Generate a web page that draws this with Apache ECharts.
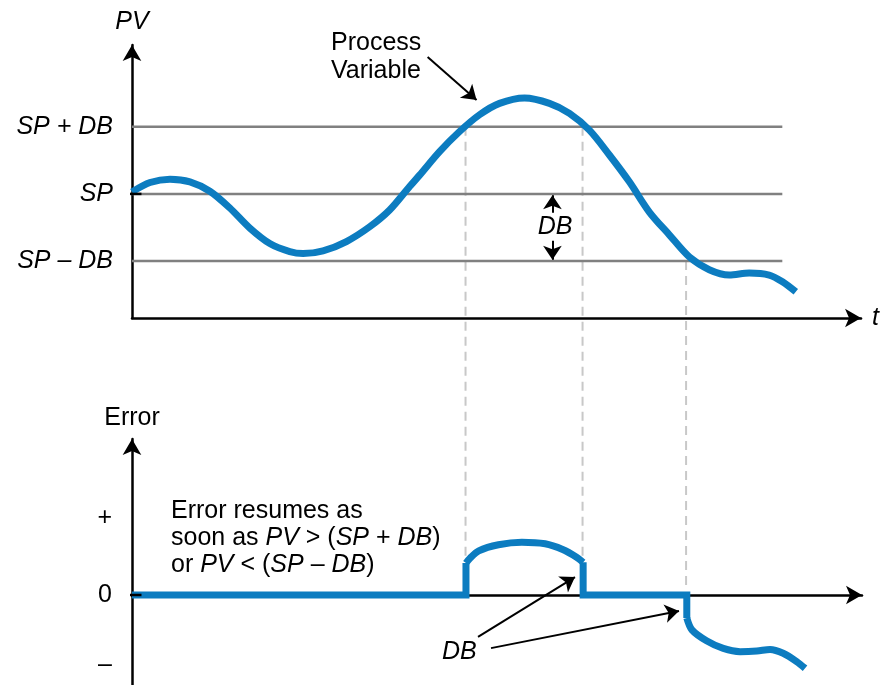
<!DOCTYPE html>
<html>
<head>
<meta charset="utf-8">
<script src="https://cdn.jsdelivr.net/npm/echarts@6/dist/echarts.min.js"></script>
<style>
  html, body { margin: 0; padding: 0; background: #fff; }
  #chart { width: 880px; height: 685px; }
</style>
</head>
<body>
<div id="chart"></div>
<script>
// time runs 0..100 along t, PV is measured in DB units around SP
var pvCurve = [[0, 0.03], [2.47, 0.17], [5.21, 0.22], [7.95, 0.18], [10.68, 0.04], [13.42, -0.21],
  [16.16, -0.51], [18.9, -0.74], [21.64, -0.86], [23.47, -0.89], [26.2, -0.85], [29.41, -0.71],
  [32.6, -0.49], [35.34, -0.24], [38.08, 0.11], [39.45, 0.28], [42.19, 0.63], [44.93, 0.93],
  [47.67, 1.18], [50.41, 1.35], [53.84, 1.43], [57.26, 1.35], [60, 1.2], [62.74, 0.95],
  [65.48, 0.58], [68.22, 0.18], [70.96, -0.27], [73.7, -0.61], [76.44, -0.94], [79.18, -1.13],
  [81.92, -1.21], [84.66, -1.18], [87.4, -1.21], [89.22, -1.31], [91.05, -1.46]];

var levelValues = [1, 0, -1];
var levelLabels = ['SP + DB', 'SP', 'SP \u2013 DB'];
var levelEnd = 89.2;

// error signal, pieces: flat/steps are straight, the bumps are smooth
var errStepUp = [[0, 0], [45.75, 0], [45.75, 1.0]];
var errArc = [[45.75, 1.0], [46.3, 1.15], [47.5, 1.38], [50.2, 1.57], [53.4, 1.65], [56.6, 1.6],
  [59, 1.42], [60.9, 1.18], [61.8, 1.02]];
var errStepDown = [[61.8, 1.02], [61.8, 0], [76.0, 0], [76.0, -0.72]];
var errTail = [[76.0, -0.72], [76.7, -1.09], [78.7, -1.43], [81, -1.67], [83.3, -1.77], [85.6, -1.75],
  [87.4, -1.7], [89.2, -1.82], [91.05, -2.08], [92.2, -2.29]];

var errTicks = [2.4, 0, -2.2];
var errTickLabels = ['+', '0', '\u2013'];

// dashed guides where PV leaves the dead band
var crossT = [45.75, 61.8, 76.0];
var crossLevel = [1, 1, -1];
var crossErr = [1.19, 1.19, 0.16];

var BLUE = '#0c7cc0';
var FONT = 'Liberation Sans';
var FS = 25;

function plain(data, grid, color, width, smooth, z) {
  return {
    type: 'line', xAxisIndex: grid, yAxisIndex: grid, data: data,
    showSymbol: false, symbol: 'none', smooth: smooth || false,
    clip: false, silent: true, z: z || 2,
    lineStyle: { color: color, width: width, cap: 'butt', join: 'miter' }
  };
}

function arrows(grid, pairs) {
  return {
    type: 'line', xAxisIndex: grid, yAxisIndex: grid, data: [], clip: false, silent: true, z: 4,
    markLine: {
      silent: true, symbol: ['none', 'arrow'], symbolSize: 14, animation: false,
      label: { show: false },
      lineStyle: { color: '#000', width: 2, type: 'solid' },
      emphasis: { disabled: true },
      data: pairs.map(function (p) { return [{ coord: p[0] }, { coord: p[1] }]; })
    }
  };
}

var series = [];
levelValues.forEach(function (v) {
  series.push(plain([[0, v], [levelEnd, v]], 0, '#808080', 2.5, false, 2));
});
series.push(plain([[-1.25, 0], [1.3, 0]], 0, '#000', 2.5, false, 5));
series.push(plain([[-1.25, 0], [1.3, 0]], 1, '#000', 2.5, false, 5));
series.push(plain(pvCurve, 0, BLUE, 7, 0.3, 3));
series.push(plain(errStepUp, 1, BLUE, 7, false, 3));
series.push(plain(errArc, 1, BLUE, 7, 0.3, 3));
series.push(plain(errStepDown, 1, BLUE, 7, false, 3));
series.push(plain(errTail, 1, BLUE, 7, 0.3, 3));
series.push(arrows(0, [
  [[40.55, 2.04], [47.26, 1.40]],
  [[57.67, -0.28], [57.67, -0.02]],
  [[57.67, -0.70], [57.67, -0.98]]
]));
series.push(arrows(1, [
  [[47.4, -1.31], [60.68, 0.56]],
  [[49.18, -1.66], [74.93, -0.5]]
]));

function axisLineOpt(onZero) {
  return {
    onZero: onZero, symbol: ['none', 'arrow'], symbolSize: [14, 16], symbolOffset: [0, 0],
    lineStyle: { color: '#000', width: 2.5 }
  };
}

var option = {
  animation: false,
  backgroundColor: '#fff',
  textStyle: { fontFamily: FONT },
  grid: [
    { left: 132, width: 730, top: 45, height: 273 },
    { left: 132, width: 730, top: 439, height: 246 }
  ],
  xAxis: [
    {
      gridIndex: 0, type: 'value', min: 0, max: 100,
      axisLine: axisLineOpt(false), axisTick: { show: false }, axisLabel: { show: false },
      splitLine: { show: false },
      name: 't', nameLocation: 'end', nameGap: 11,
      nameTextStyle: { fontFamily: FONT, fontSize: FS, fontStyle: 'italic', color: '#000' }
    },
    {
      gridIndex: 1, type: 'value', min: 0, max: 100,
      axisLine: axisLineOpt(true), axisTick: { show: false }, axisLabel: { show: false },
      splitLine: { show: false }
    }
  ],
  yAxis: [
    {
      gridIndex: 0, type: 'value', min: -1.85, max: 2.22,
      axisLine: axisLineOpt(false), axisTick: { show: false }, splitLine: { show: false },
      axisLabel: {
        customValues: levelValues, margin: 19, color: '#000',
        fontFamily: FONT, fontSize: FS, fontStyle: 'italic',
        formatter: function (v) { return levelLabels[levelValues.indexOf(v)]; }
      },
      name: 'PV', nameLocation: 'end', nameGap: 10,
      nameTextStyle: { fontFamily: FONT, fontSize: FS, fontStyle: 'italic', color: '#000' }
    },
    {
      gridIndex: 1, type: 'value', min: -2.8125, max: 4.875,
      axisLine: axisLineOpt(false), axisTick: { show: false }, splitLine: { show: false },
      axisLabel: {
        customValues: errTicks, margin: 20, color: '#000',
        fontFamily: FONT, fontSize: FS,
        formatter: function (v) { return errTickLabels[errTicks.indexOf(v)]; }
      },
      name: 'Error', nameLocation: 'end', nameGap: 8,
      nameTextStyle: { fontFamily: FONT, fontSize: FS, color: '#000' }
    }
  ],
  graphic: [
    {
      type: 'text', left: 331, top: 29, silent: true,
      style: { text: 'Process\nVariable', font: FS + 'px "Liberation Sans"', fill: '#000', lineHeight: 28 }
    },
    {
      type: 'text', x: 555, y: 227, silent: true,
      style: { text: 'DB', font: 'italic ' + FS + 'px "Liberation Sans"', fill: '#000', align: 'center', verticalAlign: 'middle' }
    },
    {
      type: 'text', x: 442, y: 652, silent: true,
      style: { text: 'DB', font: 'italic ' + FS + 'px "Liberation Sans"', fill: '#000', verticalAlign: 'middle' }
    },
    {
      type: 'text', left: 171, top: 499, silent: true,
      style: {
        text: '{n|Error resumes as}\n{n|soon as }{i|PV}{n| > (}{i|SP}{n| + }{i|DB}{n|)}\n{n|or }{i|PV}{n| < (}{i|SP}{n| \u2013 }{i|DB}{n|)}',
        fill: '#000',
        rich: {
          n: { fontFamily: FONT, fontSize: FS, lineHeight: 27, fill: '#000' },
          i: { fontFamily: FONT, fontSize: FS, lineHeight: 27, fontStyle: 'italic', fill: '#000' }
        }
      }
    }
  ],
  series: series
};

var chart = echarts.init(document.getElementById('chart'));
chart.setOption(option);

// guides run from the PV plot down into the error plot
var guides = crossT.map(function (t, i) {
  var p = chart.convertToPixel({ gridIndex: 1 }, [t, crossErr[i]]);
  var v = chart.convertFromPixel({ gridIndex: 0 }, p)[1];
  var s = plain([[t, crossLevel[i]], [t, v]], 0, '#c8c8c8', 2, false, 1);
  s.lineStyle.type = [9, 6];
  return s;
});
chart.setOption({ series: series.concat(guides) });
</script>
</body>
</html>
